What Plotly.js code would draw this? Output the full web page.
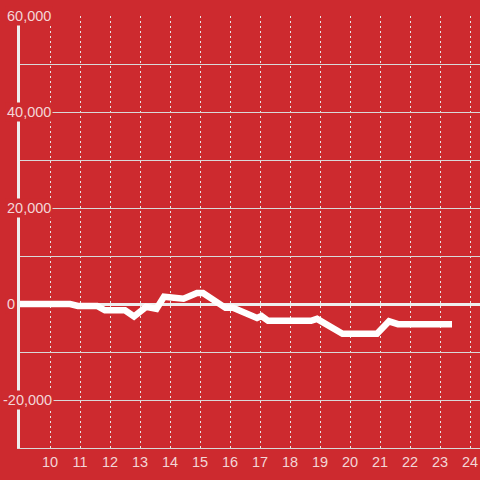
<!DOCTYPE html>
<html>
<head>
<meta charset="utf-8">
<script src="https://cdn.plot.ly/plotly-3.0.1.min.js"></script>
<style>
html, body { margin: 0; padding: 0; background: #cd2a2f; }
#chart { width: 480px; height: 480px; }
</style>
</head>
<body>
<div id="chart"></div>
<script>
// Data
var hours = [9.0, 10.67, 10.93, 11.57, 11.83, 12.5, 12.8, 13.2, 13.55, 13.8, 14.45, 14.9, 15.1, 15.55, 15.85, 16.1, 16.9, 17.05, 17.27, 18.7, 18.9, 19.75, 20.9, 21.3, 21.6, 23.4];
var values = [0, 0, -400, -400, -1300, -1300, -2600, -600, -1000, 1500, 1100, 2300, 2300, 500, -800, -800, -2900, -2500, -3500, -3500, -3100, -6200, -6200, -3600, -4200, -4200];
var xTicks = [10, 11, 12, 13, 14, 15, 16, 17, 18, 19, 20, 21, 22, 23, 24];
var yLabelValues = [60000, 40000, 20000, 0, -20000];

var bg = '#cd2a2f';
var labelColor = '#f3d6d7';
var font = 'Liberation Sans, Arial, sans-serif';

function fmt(v) { return v.toLocaleString('en-US'); }

var annotations = yLabelValues.map(function (v) {
  return {
    xref: 'paper', yref: 'y', x: 0, y: v,
    xanchor: 'left', yanchor: 'middle',
    xshift: v < 0 ? -19 : -15,
    text: fmt(v), showarrow: false,
    bgcolor: bg, borderpad: 1,
    font: { family: font, size: 14.5, color: labelColor }
  };
});

var trace = {
  x: hours, y: values, type: 'scatter', mode: 'lines',
  line: { color: '#ffffff', width: 6.5 },
  hoverinfo: 'skip'
};

var layout = {
  width: 480, height: 480,
  margin: { l: 20, r: 0, t: 16, b: 32 },
  paper_bgcolor: bg, plot_bgcolor: bg,
  showlegend: false,
  xaxis: {
    range: [9, 24.333],
    tickvals: xTicks, ticktext: xTicks.map(String),
    ticks: '', showgrid: true, gridcolor: '#e6e6e6', gridwidth: 1, griddash: '2px,3px',
    showline: true, linecolor: '#d9d9d9', linewidth: 1,
    zeroline: false,
    tickfont: { family: font, size: 14.5, color: labelColor },
    ticklabelstandoff: 1
  },
  yaxis: {
    range: [-30000, 60000], dtick: 10000, tick0: 0,
    showticklabels: false, ticks: '',
    showgrid: true, gridcolor: '#d9d9d9', gridwidth: 1,
    showline: true, linecolor: '#eeeeee', linewidth: 3,
    zeroline: true, zerolinecolor: '#eeeeee', zerolinewidth: 3
  },
  annotations: annotations
};

Plotly.newPlot('chart', [trace], layout, { displayModeBar: false, staticPlot: true });
</script>
</body>
</html>
